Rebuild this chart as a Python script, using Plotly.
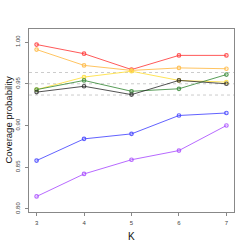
import plotly.graph_objects as go

K = [3, 4, 5, 6, 7]
red = [0.997, 0.986, 0.967, 0.984, 0.984]
orange = [0.991, 0.972, 0.966, 0.969, 0.968]
yellow = [0.943, 0.958, 0.965, 0.954, 0.952]
green = [0.943, 0.954, 0.941, 0.944, 0.961]
black = [0.940, 0.947, 0.937, 0.954, 0.950]
blue = [0.858, 0.884, 0.890, 0.912, 0.915]
purple = [0.815, 0.842, 0.859, 0.870, 0.900]
ref_lines = [0.9365, 0.95, 0.9635]
yticks = [0.80, 0.85, 0.90, 0.95, 1.00]

series = [
    (red, "rgba(255,60,60,0.85)"),
    (orange, "rgba(255,190,80,0.9)"),
    (yellow, "rgba(255,225,70,0.9)"),
    (green, "rgba(60,140,60,0.85)"),
    (black, "rgba(40,40,40,0.8)"),
    (blue, "rgba(70,70,255,0.85)"),
    (purple, "rgba(170,80,255,0.85)"),
]

fig = go.Figure()
for v in ref_lines:
    fig.add_hline(y=v, line=dict(color="#cccccc", width=1, dash="dot"), layer="below")
for vals, col in series:
    fig.add_trace(go.Scatter(
        x=K, y=vals, mode="lines+markers",
        line=dict(color=col, width=1),
        marker=dict(symbol="circle", size=3.5, color="rgba(255,255,255,0)", line=dict(color=col, width=1.2)),
        showlegend=False))

fig.update_layout(
    width=249, height=249,
    margin=dict(l=29, r=15, t=29, b=37),
    paper_bgcolor="white", plot_bgcolor="white",
    font=dict(family="Liberation Sans, Arial, sans-serif", color="#333333"),
    annotations=[
        dict(text="Coverage probability", x=0, y=0.5, xref="paper", yref="paper",
             xanchor="center", yanchor="middle", xshift=-21, textangle=-90, showarrow=False,
             font=dict(size=9.5, color="#111111")),
        dict(text="K", x=0.5, y=0, xref="paper", yref="paper",
             xanchor="center", yanchor="middle", yshift=-24, showarrow=False,
             font=dict(size=10, color="#111111")),
    ],
)
fig.update_xaxes(range=[2.84, 7.16], tickvals=K, ticktext=[str(k) for k in K],
                 automargin=False,
                 showgrid=False, zeroline=False, showline=True, mirror=True,
                 linecolor="#888888", linewidth=1, ticks="outside", ticklen=3,
                 tickcolor="#888888", tickfont=dict(size=6, color="#444444"),
                 ticklabelstandoff=2)
fig.update_yaxes(range=[0.7964, 1.0156], tickvals=yticks, ticktext=["0.80", "0.85", "0.90", "0.95", "1.00"],
                 automargin=False,
                 showgrid=False, zeroline=False, showline=True, mirror=True,
                 linecolor="#888888", linewidth=1, ticks="outside", ticklen=3,
                 tickcolor="#888888", tickangle=-90, tickfont=dict(size=6, color="#444444"),
                 ticklabelstandoff=3)

fig.write_html("out.html", config={"displayModeBar": False},
               post_script="document.body.style.margin='0';document.body.style.overflow='hidden';")
